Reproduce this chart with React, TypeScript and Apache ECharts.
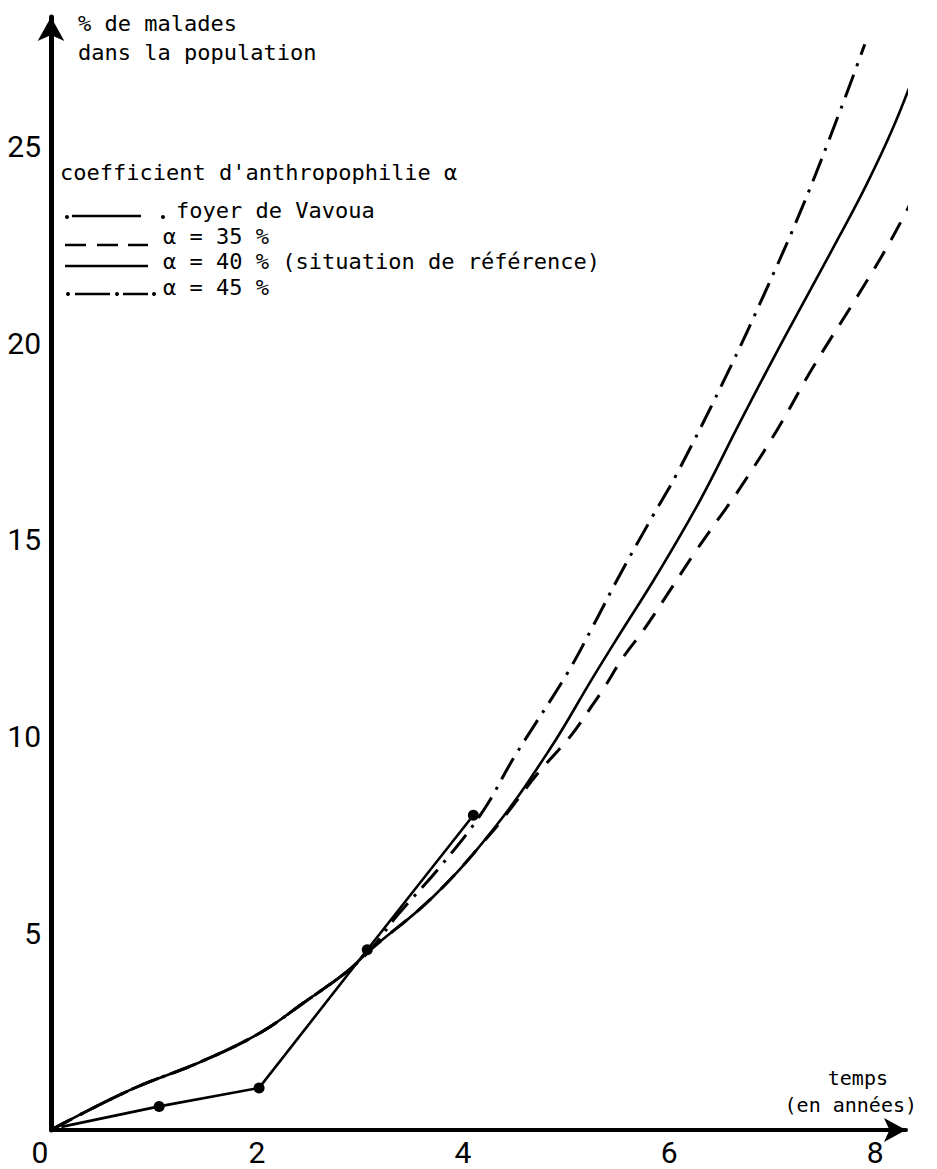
import React, { useEffect, useRef } from "react";
import * as echarts from "echarts";

// ---- data ----
const xTickLabels = [0, 2, 4, 6, 8];
const yTickLabels = [5, 10, 15, 20, 25];

// foyer de Vavoua (observed)
const vavouaX = [0.1, 1.05, 2.02, 3.07, 4.1];
const vavouaY = [0.08, 0.6, 1.07, 4.58, 8.0];

// alpha = 40 % (situation de référence)
const a40X = [0, 0.77, 1.45, 2.03, 2.45, 2.87, 3.1, 3.71, 4.29, 4.84, 5.26, 5.52, 5.88, 6.3, 6.69, 7.05, 7.34, 7.66, 7.92, 8.17, 8.39];
const a40Y = [0, 1.02, 1.73, 2.47, 3.23, 4.02, 4.58, 5.93, 7.63, 9.67, 11.5, 12.6, 14.1, 16.0, 18.0, 19.8, 21.2, 22.75, 24.05, 25.45, 26.9];

// alpha = 35 %
const a35X = [0, 0.77, 1.45, 2.03, 2.45, 2.87, 3.1, 3.71, 4.29, 4.5, 4.72, 5.04, 5.23, 5.36, 5.55, 5.75, 5.98, 6.23, 6.47, 6.66, 7.05, 7.4, 7.83, 8.15, 8.43];
const a35Y = [0, 1.02, 1.73, 2.47, 3.23, 4.02, 4.58, 5.93, 7.6, 8.3, 9.05, 10.0, 10.7, 11.2, 12.0, 12.7, 13.6, 14.6, 15.5, 16.2, 17.8, 19.4, 21.2, 22.6, 24.0];

// alpha = 45 %
const a45X = [0, 0.77, 1.45, 2.03, 2.45, 2.87, 3.1, 3.36, 3.78, 4.19, 4.49, 5.01, 5.26, 5.52, 5.84, 6.08, 6.56, 6.95, 7.3, 7.66, 7.9];
const a45Y = [0, 1.02, 1.73, 2.47, 3.23, 4.02, 4.58, 5.45, 6.7, 8.09, 9.45, 11.6, 12.8, 14.1, 15.6, 16.7, 19.2, 21.4, 23.5, 25.9, 27.6];

const zip = (xs: number[], ys: number[]) => xs.map((x, i) => [x, ys[i]]);

const MONO = '"DejaVu Sans Mono", "Liberation Mono", monospace';
const NARROW = '"Liberation Sans Narrow", "Roboto", sans-serif';

export default function App() {
  const ref = useRef<HTMLDivElement>(null);

  useEffect(() => {
    if (!ref.current) return;
    const chart = echarts.init(ref.current, null, { renderer: "svg" });

    const lineW = 2.6;
    const txt = (text: string, x: number, y: number, size = 22, align = "left") => ({
      type: "text",
      x,
      y,
      style: { text, fill: "#000", font: `${size}px ${MONO}`, textAlign: align, textVerticalAlign: "middle" },
    });
    const seg = (x1: number, y1: number, x2: number, y2: number) => ({
      type: "line",
      shape: { x1, y1, x2, y2 },
      style: { stroke: "#000", lineWidth: 2.5 },
    });
    const dot = (cx: number, cy: number, r = 2) => ({
      type: "circle",
      shape: { cx, cy, r },
      style: { fill: "#000" },
    });

    const modelLine = (name: string, xs: number[], ys: number[], width: number, type: any) => ({
      name,
      type: "line",
      data: zip(xs, ys),
      showSymbol: false,
      smooth: 0.4,
      clip: false,
      lineStyle: { color: "#000", width, type },
    });

    const option: any = {
      animation: false,
      backgroundColor: "#fff",
      grid: { left: 51, top: 17, width: 855, height: 1113, containLabel: false },
      xAxis: {
        type: "value",
        min: 0,
        max: 8.3,
        interval: 2,
        splitLine: { show: false },
        axisTick: { show: false },
        axisLine: {
          show: true,
          onZero: false,
          lineStyle: { color: "#000", width: 4 },
          symbol: ["none", "arrow"],
          symbolSize: [18, 22],
        },
        axisLabel: {
          color: "#000",
          fontSize: 30,
          fontFamily: NARROW,
          margin: 7,
          showMaxLabel: false,
          formatter: (v: number) =>
            xTickLabels.includes(v) ? (v === 0 ? "{z|0}" : String(v)) : "",
          rich: { z: { fontSize: 30, fontFamily: NARROW, color: "#000", padding: [0, 22, 0, 0] } },
        },
      },
      yAxis: {
        type: "value",
        min: 0,
        max: 28.29,
        interval: 5,
        splitLine: { show: false },
        axisTick: { show: false },
        axisLine: {
          show: true,
          onZero: false,
          lineStyle: { color: "#000", width: 5 },
          symbol: ["none", "arrow"],
          symbolSize: [20, 24],
        },
        axisLabel: {
          color: "#000",
          fontSize: 30,
          fontFamily: NARROW,
          margin: 10,
          showMaxLabel: false,
          formatter: (v: number) => (yTickLabels.includes(v) ? String(v) : ""),
        },
      },
      series: [
        modelLine("α = 40 %", a40X, a40Y, lineW, "solid"),
        modelLine("α = 35 %", a35X, a35Y, 3, [20, 13]),
        modelLine("α = 45 %", a45X, a45Y, 3, [24, 9, 3, 9]),
        {
          name: "foyer de Vavoua",
          type: "line",
          data: vavouaX.map((x, i) =>
            i === 0 ? { value: [x, vavouaY[i]], symbol: "none" } : [x, vavouaY[i]]
          ),
          symbol: "circle",
          symbolSize: 11,
          showSymbol: true,
          clip: false,
          itemStyle: { color: "#000" },
          lineStyle: { color: "#000", width: lineW },
        },
      ],
      graphic: [
        txt("% de malades", 78, 23),
        txt("dans la population", 78, 52),
        txt("coefficient d'anthropophilie α", 60, 172),
        // row 1: foyer de Vavoua
        dot(67, 217),
        seg(72, 216, 141, 216),
        dot(163, 217),
        txt("foyer de Vavoua", 176, 210),
        // row 2: alpha 35
        seg(65, 245, 86, 245),
        seg(97, 245, 118, 245),
        seg(128, 245, 148, 245),
        txt("α = 35 %", 163, 236),
        // row 3: alpha 40
        seg(65, 266, 148, 266),
        txt("α = 40 % (situation de référence)", 163, 261),
        // row 4: alpha 45
        dot(68, 294),
        seg(75, 294, 110, 294),
        dot(117, 294),
        seg(123, 294, 148, 294),
        dot(154, 294),
        txt("α = 45 %", 163, 287),
        // x axis name
        txt("temps", 888, 1078, 20, "right"),
        txt("(en années)", 917, 1105, 20, "right"),
      ],
    };

    chart.setOption(option);
    return () => chart.dispose();
  }, []);

  return (
    <div
      ref={ref}
      style={{ position: "fixed", left: 0, top: 0, width: 937, height: 1169, background: "#fff" }}
    />
  );
}
